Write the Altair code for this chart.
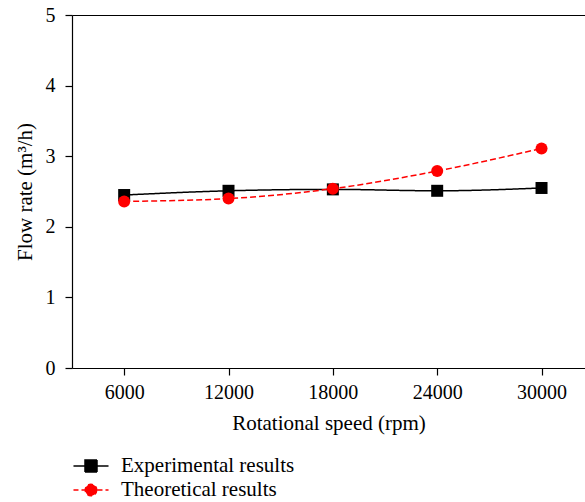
import altair as alt
import pandas as pd

speeds = [6000, 12000, 18000, 24000, 30000]
experimental = [2.45, 2.51, 2.53, 2.51, 2.55]
theoretical = [2.36, 2.40, 2.54, 2.79, 3.11]
series_names = ["Experimental results", "Theoretical results"]
series_colors = ["#000000", "#ff0000"]
series_marker = ["square", "circle"]
series_dash = [[1, 0], [6, 3]]
x_ticks = [6000, 12000, 18000, 24000, 30000]
y_ticks = [0, 1, 2, 3, 4, 5]

rows = []
for name, vals in zip(series_names, [experimental, theoretical]):
    for s, v in zip(speeds, vals):
        rows.append({"speed": s, "flow": v, "series": name})
df = pd.DataFrame(rows)

FONT = "Liberation Serif"

x_enc = alt.X(
    "speed:Q",
    scale=alt.Scale(domain=[3000, 32500], nice=False, zero=False),
    axis=alt.Axis(values=x_ticks, format="d", title="Rotational speed (rpm)", grid=False,
                  tickSize=7, labelPadding=7, titlePadding=10),
)
y_enc = alt.Y(
    "flow:Q",
    scale=alt.Scale(domain=[0, 5], nice=False),
    axis=alt.Axis(values=y_ticks, title="Flow rate (m³/h)", tickSize=7,
                  labelPadding=10, titlePadding=10, grid=True, gridColor="black",
                  gridWidth=1.2,
                  gridOpacity={"condition": {"test": "datum.value == 5", "value": 1}, "value": 0}),
)

# legend glyphs: a line segment with the marker in its centre
legend_glyphs = [
    "M-1.46,0H1.46M-0.5,-0.5H0.5V0.5H-0.5Z",
    "M-1.46,0H1.46M0.48,0A0.48,0.48,0,1,1,-0.48,0A0.48,0.48,0,1,1,0.48,0Z",
]

layers = []
for name, col, dash in zip(series_names, series_colors, series_dash):
    layers.append(
        alt.Chart(df).transform_filter(alt.datum.series == name)
        .mark_line(interpolate="monotone", strokeWidth=1.5, strokeDash=dash, color=col)
        .encode(x=x_enc, y=y_enc)
    )
for name, col, shp in zip(series_names, series_colors, series_marker):
    layers.append(
        alt.Chart(df).transform_filter(alt.datum.series == name)
        .mark_point(filled=True, size=144, opacity=1, shape=shp, color=col)
        .encode(x=x_enc, y=y_enc)
    )

legend = alt.Legend(
    title=None, orient="none", legendX=6, legendY=438,
    symbolSize=576, symbolOpacity=1, symbolStrokeWidth=1.5,
    labelFont=FONT, labelFontSize=21, labelColor="black", labelLimit=400,
    labelOffset=17, rowPadding=1,
)

legend_layer = alt.Chart(df).mark_point(filled=True, size=0, opacity=0).encode(
    x=x_enc, y=y_enc,
    fill=alt.Fill("series:N", scale=alt.Scale(domain=series_names, range=series_colors), legend=legend),
    stroke=alt.Stroke("series:N", scale=alt.Scale(domain=series_names, range=series_colors), legend=legend),
    shape=alt.Shape("series:N", scale=alt.Scale(domain=series_names, range=legend_glyphs), legend=legend),
    strokeDash=alt.StrokeDash("series:N", scale=alt.Scale(domain=series_names, range=[[1, 0], [5, 3]]), legend=legend),
)

chart = alt.layer(*layers, legend_layer).properties(
    width=513, height=353,
    padding={"left": 72, "top": 15, "right": 0, "bottom": 134},
    autosize=alt.AutoSizeParams(type="none"),
    background="white",
).configure_view(stroke=None).configure_axis(
    domainColor="black", domainWidth=1.2, tickColor="black", tickWidth=1.2,
    labelColor="black", titleColor="black", labelFont=FONT, titleFont=FONT,
    labelFontSize=20, titleFontSize=21, titleFontWeight="normal",
)

chart.save("out.html", embed_options={"renderer": "svg", "actions": False})
